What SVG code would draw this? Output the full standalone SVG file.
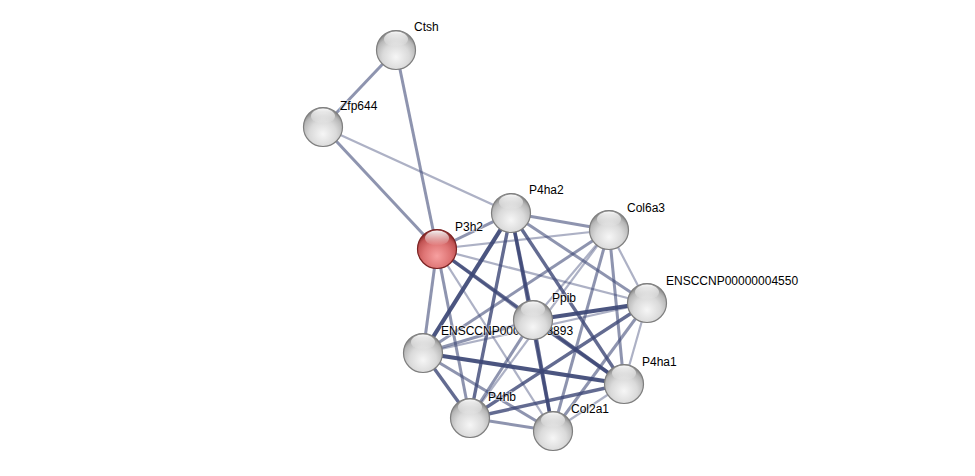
<svg xmlns="http://www.w3.org/2000/svg" width="975" height="476" viewBox="0 0 975 476">
<defs>
<radialGradient id="gBall" cx="0.5" cy="0.68" r="0.62">
<stop offset="0" stop-color="#f6f6f6"/>
<stop offset="0.55" stop-color="#dadada"/>
<stop offset="0.85" stop-color="#b8b8b8"/>
<stop offset="1" stop-color="#8e8e8e"/>
</radialGradient>
<radialGradient id="rBall" cx="0.5" cy="0.68" r="0.62">
<stop offset="0" stop-color="#f7a0a0"/>
<stop offset="0.55" stop-color="#de7474"/>
<stop offset="0.85" stop-color="#c25454"/>
<stop offset="1" stop-color="#8e2e2e"/>
</radialGradient>
<linearGradient id="hl" x1="0" y1="0" x2="0" y2="1">
<stop offset="0" stop-color="#ffffff" stop-opacity="0.95"/>
<stop offset="1" stop-color="#ffffff" stop-opacity="0"/>
</linearGradient>
</defs>
<style>
.e{stroke:#3c4675;stroke-linecap:butt;fill:none}
.e1{stroke-width:2.2;stroke-opacity:0.42}
.e2{stroke-width:3;stroke-opacity:0.58}
.e3{stroke-width:3.4;stroke-opacity:0.8}
.e4{stroke-width:4.2;stroke-opacity:0.92}
.ball{fill:url(#gBall);stroke:#7e7e7e;stroke-width:1.2}
.red{fill:url(#rBall);stroke:#7a2222;stroke-width:1.2}
.shine{fill:url(#hl)}
.lbl{font-family:"Liberation Sans",Arial,sans-serif;font-size:12px;fill:#000;stroke:#fff;stroke-width:2;stroke-opacity:0.5;paint-order:stroke}
</style>
<rect width="975" height="476" fill="#fff"/>
<g id="edges" class="e">
<line class="e e2" x1="396" y1="50" x2="323" y2="127"/>
<line class="e e2" x1="396" y1="50" x2="437" y2="249"/>
<line class="e e2" x1="323" y1="127" x2="437" y2="249"/>
<line class="e e1" x1="323" y1="127" x2="511" y2="213"/>
<line class="e e2" x1="437" y1="249" x2="511" y2="213"/>
<line class="e e1" x1="437" y1="249" x2="609" y2="230"/>
<line class="e e1" x1="437" y1="249" x2="647" y2="303"/>
<line class="e e2" x1="437" y1="249" x2="533" y2="320"/>
<line class="e e2" x1="437" y1="249" x2="423" y2="353"/>
<line class="e e3" x1="437" y1="249" x2="624" y2="384"/>
<line class="e e2" x1="437" y1="249" x2="470" y2="418"/>
<line class="e e1" x1="437" y1="249" x2="553" y2="431"/>
<line class="e e2" x1="511" y1="213" x2="609" y2="230"/>
<line class="e e2" x1="511" y1="213" x2="647" y2="303"/>
<line class="e e3" x1="511" y1="213" x2="533" y2="320"/>
<line class="e e4" x1="511" y1="213" x2="423" y2="353"/>
<line class="e e3" x1="511" y1="213" x2="624" y2="384"/>
<line class="e e3" x1="511" y1="213" x2="470" y2="418"/>
<line class="e e3" x1="511" y1="213" x2="553" y2="431"/>
<line class="e e1" x1="609" y1="230" x2="647" y2="303"/>
<line class="e e1" x1="609" y1="230" x2="533" y2="320"/>
<line class="e e2" x1="609" y1="230" x2="423" y2="353"/>
<line class="e e2" x1="609" y1="230" x2="624" y2="384"/>
<line class="e e1" x1="609" y1="230" x2="470" y2="418"/>
<line class="e e2" x1="609" y1="230" x2="553" y2="431"/>
<line class="e e4" x1="647" y1="303" x2="533" y2="320"/>
<line class="e e1" x1="647" y1="303" x2="423" y2="353"/>
<line class="e e1" x1="647" y1="303" x2="624" y2="384"/>
<line class="e e3" x1="647" y1="303" x2="470" y2="418"/>
<line class="e e2" x1="647" y1="303" x2="553" y2="431"/>
<line class="e e2" x1="533" y1="320" x2="423" y2="353"/>
<line class="e e3" x1="533" y1="320" x2="624" y2="384"/>
<line class="e e2" x1="533" y1="320" x2="470" y2="418"/>
<line class="e e3" x1="533" y1="320" x2="553" y2="431"/>
<line class="e e4" x1="423" y1="353" x2="624" y2="384"/>
<line class="e e3" x1="423" y1="353" x2="470" y2="418"/>
<line class="e e2" x1="423" y1="353" x2="553" y2="431"/>
<line class="e e3" x1="624" y1="384" x2="470" y2="418"/>
<line class="e e1" x1="624" y1="384" x2="553" y2="431"/>
<line class="e e2" x1="470" y1="418" x2="553" y2="431"/>
</g>
<g id="node-Ctsh"><circle class="ball" cx="396" cy="50" r="19.5"/><ellipse class="shine" cx="396" cy="39" rx="12" ry="7.5"/><text class="lbl" x="414" y="31">Ctsh</text></g>
<g id="node-Zfp644"><circle class="ball" cx="323" cy="127" r="19.5"/><ellipse class="shine" cx="323" cy="116" rx="12" ry="7.5"/><text class="lbl" x="340" y="110">Zfp644</text></g>
<g id="node-P4ha2"><circle class="ball" cx="511" cy="213" r="19.5"/><ellipse class="shine" cx="511" cy="202" rx="12" ry="7.5"/><text class="lbl" x="529" y="194">P4ha2</text></g>
<g id="node-Col6a3"><circle class="ball" cx="609" cy="230" r="19.5"/><ellipse class="shine" cx="609" cy="219" rx="12" ry="7.5"/><text class="lbl" x="627" y="212">Col6a3</text></g>
<g id="node-P3h2"><circle class="red" cx="437" cy="249" r="19.5"/><ellipse class="shine" cx="437" cy="238" rx="12" ry="7.5"/><text class="lbl" x="455" y="231">P3h2</text></g>
<g id="node-ENSCCNP00000004550"><circle class="ball" cx="647" cy="303" r="19.5"/><ellipse class="shine" cx="647" cy="292" rx="12" ry="7.5"/><text class="lbl" x="666" y="285">ENSCCNP00000004550</text></g>
<g id="node-ENSCCNP00000008893"><circle class="ball" cx="423" cy="353" r="19.5"/><ellipse class="shine" cx="423" cy="342" rx="12" ry="7.5"/><text class="lbl" x="441" y="335">ENSCCNP00000008893</text></g>
<g id="node-Ppib"><circle class="ball" cx="533" cy="320" r="19.5"/><ellipse class="shine" cx="533" cy="309" rx="12" ry="7.5"/><text class="lbl" x="552" y="302">Ppib</text></g>
<g id="node-P4ha1"><circle class="ball" cx="624" cy="384" r="19.5"/><ellipse class="shine" cx="624" cy="373" rx="12" ry="7.5"/><text class="lbl" x="642" y="366">P4ha1</text></g>
<g id="node-P4hb"><circle class="ball" cx="470" cy="418" r="19.5"/><ellipse class="shine" cx="470" cy="407" rx="12" ry="7.5"/><text class="lbl" x="488" y="401">P4hb</text></g>
<g id="node-Col2a1"><circle class="ball" cx="553" cy="431" r="19.5"/><ellipse class="shine" cx="553" cy="420" rx="12" ry="7.5"/><text class="lbl" x="571" y="413">Col2a1</text></g>
</svg>
